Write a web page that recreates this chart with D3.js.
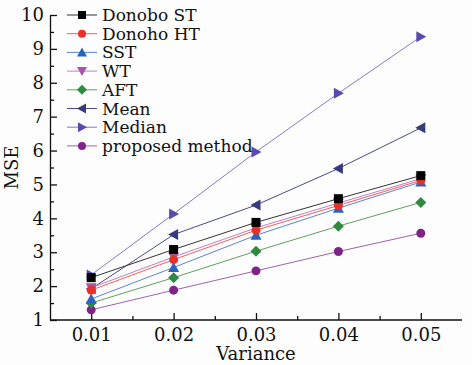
<!DOCTYPE html>
<html>
<head>
<meta charset="utf-8">
<script src="https://cdn.jsdelivr.net/npm/d3@7"></script>
<style>
  body { margin: 0; background: #fdfdfd; }
  svg text { font-family: "DejaVu Serif", serif; fill: #111; }
  .axis path, .axis line { stroke: #111; stroke-width: 1.3; }
</style>
</head>
<body>
<div id="chart"></div>
<script>
// data
var variances = [0.01, 0.02, 0.03, 0.04, 0.05];
var seriesNames = ["Donobo ST", "Donoho HT", "SST", "WT", "AFT", "Mean", "Median", "proposed method"];
var donoboST = [2.25, 3.08, 3.88, 4.58, 5.26];
var donohoHT = [1.88, 2.78, 3.65, 4.38, 5.12];
var sst      = [1.62, 2.55, 3.50, 4.30, 5.07];
var wt       = [1.95, 2.86, 3.72, 4.45, 5.17];
var aft      = [1.50, 2.25, 3.03, 3.77, 4.47];
var meanF    = [1.92, 3.52, 4.39, 5.47, 6.67];
var medianF  = [2.33, 4.13, 5.96, 7.69, 9.36];
var proposed = [1.30, 1.88, 2.45, 3.02, 3.56];
var yTicks = [1, 2, 3, 4, 5, 6, 7, 8, 9, 10];

var allValues = [donoboST, donohoHT, sst, wt, aft, meanF, medianF, proposed];
var markColors = ["#000000", "#e8302a", "#2a62c0", "#a855a8", "#2e8a3e", "#363a7e", "#5a4aae", "#7e2488"];
var lineColors = ["#333333", "#f0605a", "#5a86d0", "#c080c0", "#60a060", "#4a4a88", "#8878c8", "#a060b0"];
var shapes = ["square", "circle", "triUp", "triDown", "diamond", "triLeft", "triRight", "circle"];

var width = 472, height = 365;

var svg = d3.select("#chart").append("svg")
    .attr("width", width)
    .attr("height", height);

var x = d3.scaleLinear().domain([0.005, 0.055]).range([50, 462]);
var y = d3.scaleLinear().domain([1, 10]).range([320, 15]);

// axes with inward ticks
var xAxis = d3.axisBottom(x)
    .tickValues(variances)
    .tickFormat(d3.format(".2f"))
    .tickSizeInner(-7).tickSizeOuter(0).tickPadding(8);
var xMinor = d3.axisBottom(x)
    .tickValues([0.015, 0.025, 0.035, 0.045])
    .tickFormat("").tickSizeInner(-4).tickSizeOuter(0);

var gx = svg.append("g").attr("class", "axis")
    .attr("transform", "translate(0," + y(1) + ")")
    .call(xAxis);
gx.append("g").call(xMinor).select(".domain").remove();
gx.select(".domain").attr("d", "M" + x(0.005) + ",0H" + x(0.055));

var yAxis = d3.axisLeft(y)
    .tickValues(yTicks)
    .tickSizeInner(-7).tickSizeOuter(0).tickPadding(6);
var yMinor = d3.axisLeft(y)
    .tickValues(d3.range(1.5, 10, 1))
    .tickFormat("").tickSizeInner(-4).tickSizeOuter(0);

var gy = svg.append("g").attr("class", "axis")
    .attr("transform", "translate(" + x(0.005) + ",0)")
    .call(yAxis);
gy.append("g").call(yMinor).select(".domain").remove();

svg.selectAll(".axis text").style("font-size", "18px");

// axis titles
svg.append("text")
    .attr("x", (x(0.005) + x(0.055)) / 2)
    .attr("y", 360)
    .attr("text-anchor", "middle")
    .style("font-size", "18px")
    .text("Variance");

svg.append("text")
    .attr("transform", "translate(18," + y(5.5) + ") rotate(-90)")
    .attr("text-anchor", "middle")
    .style("font-size", "18px")
    .text("MSE");

// marker shapes
function markerPath(shape, s) {
    var h = s / 2;
    if (shape == "square") return "M" + (-h) + "," + (-h) + "h" + s + "v" + s + "h" + (-s) + "Z";
    if (shape == "circle") return d3.symbol(d3.symbolCircle, s * s * 0.78)();
    if (shape == "diamond") return "M0," + (-h - 1) + "L" + (h + 1) + ",0L0," + (h + 1) + "L" + (-h - 1) + ",0Z";
    if (shape == "triUp") return "M0," + (-h - 1) + "L" + (h + 1) + "," + (h) + "L" + (-h - 1) + "," + (h) + "Z";
    if (shape == "triDown") return "M0," + (h + 1) + "L" + (h + 1) + "," + (-h) + "L" + (-h - 1) + "," + (-h) + "Z";
    if (shape == "triLeft") return "M" + (-h - 1) + ",0L" + h + "," + (-h - 1) + "L" + h + "," + (h + 1) + "Z";
    if (shape == "triRight") return "M" + (h + 1) + ",0L" + (-h) + "," + (-h - 1) + "L" + (-h) + "," + (h + 1) + "Z";
}

var line = d3.line()
    .x(function(d, i) { return x(variances[i]); })
    .y(function(d) { return y(d); });

// draw in reverse so Donobo ST ends on top
for (var k = allValues.length - 1; k >= 0; k--) {
    var g = svg.append("g");
    g.append("path")
        .attr("d", line(allValues[k]))
        .attr("fill", "none")
        .attr("stroke", lineColors[k])
        .attr("stroke-width", 1);
    g.selectAll("path.mark")
        .data(allValues[k])
        .enter().append("path")
        .attr("class", "mark")
        .attr("transform", function(d, i) { return "translate(" + x(variances[i]) + "," + y(d) + ")"; })
        .attr("d", markerPath(shapes[k], 9))
        .attr("fill", markColors[k]);
}

// legend
var legend = svg.append("g").attr("transform", "translate(67,15)");
seriesNames.forEach(function(name, i) {
    var row = legend.append("g").attr("transform", "translate(0," + (i * 18.7) + ")");
    row.append("line")
        .attr("x1", 0).attr("x2", 30)
        .attr("stroke", lineColors[i]).attr("stroke-width", 1);
    row.append("path")
        .attr("transform", "translate(15,0)")
        .attr("d", markerPath(shapes[i], 8))
        .attr("fill", markColors[i]);
    row.append("text")
        .attr("x", 35).attr("y", 6)
        .style("font-size", "17px")
        .text(name);
});
</script>
</body>
</html>
